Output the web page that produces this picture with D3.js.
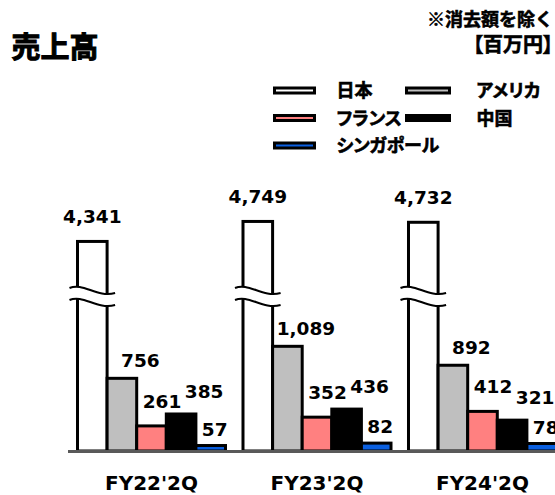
<!DOCTYPE html>
<meta charset="utf-8">
<script src="https://d3js.org/d3.v7.min.js"></script>
<style>
  body { margin: 0; background: #fff; }
  .jp { font-family: "Noto Sans CJK JP", "Noto Sans", sans-serif; font-weight: bold;
        stroke: #000; stroke-width: 0.6px; paint-order: stroke; }
  .num { font-family: "DejaVu Sans", Verdana, sans-serif; font-weight: bold; }
</style>
<div id="chart"></div>
<script>
  // data
  const categories = ["FY22'2Q", "FY23'2Q", "FY24'2Q"];
  const seriesNames = ["日本", "アメリカ", "フランス", "中国", "シンガポール"];
  const seriesColors = ["#ffffff", "#bfbfbf", "#ff8080", "#000000", "#0a5fe0"];
  const japan     = [4341, 4749, 4732];
  const america   = [756, 1089, 892];
  const france    = [261, 352, 412];
  const china     = [385, 436, 321];
  const singapore = [57, 82, 78];
  const values = [japan, america, france, china, singapore];

  const width = 555, height = 495;

  const svg = d3.select("#chart").append("svg")
      .attr("width", width)
      .attr("height", height);

  // group + bar scales
  const x0 = d3.scaleBand()
      .domain(categories)
      .range([77.5, 556.5])
      .paddingInner(0.1057);
  const x1 = d3.scaleBand()
      .domain(seriesNames)
      .range([0, x0.bandwidth()]);

  // broken value axis (gap between 1550 and 3350)
  const y = d3.scaleLinear()
      .domain([0, 1550, 3350, 5000])
      .range([451, 302, 290, 209.15]);

  const rows = [];
  categories.forEach((c, ci) => {
    seriesNames.forEach((s, si) => {
      rows.push({cat: c, series: s, si: si, value: values[si][ci]});
    });
  });

  // bars
  svg.append("g").selectAll("rect")
    .data(rows)
    .join("rect")
      .attr("x", d => x0(d.cat) + x1(d.series))
      .attr("y", d => y(d.value))
      .attr("width", x1.bandwidth())
      .attr("height", d => y(0) - y(d.value))
      .attr("fill", d => seriesColors[d.si])
      .attr("stroke", "#000")
      .attr("stroke-width", 3);

  // break marks on the Japan bars
  const yMid = (y(1550) + y(3350)) / 2;
  const brk = svg.append("g");
  categories.forEach(c => {
    const xl = x0(c) + x1("日本") - 8, xr = x0(c) + x1("日本") + x1.bandwidth() + 8;
    const w = xr - xl;
    const curve = (o) => `M${xl},${yMid - 8 + o} C${xl + 0.3 * w},${yMid - 14 + o} ${xl + 0.6 * w},${yMid + 2 + o} ${xr},${yMid - 3 + o}`;
    const back = (o) => `C${xl + 0.6 * w},${yMid + 2 + o} ${xl + 0.3 * w},${yMid - 14 + o} ${xl},${yMid - 8 + o}`;
    brk.append("path")
      .attr("d", curve(0) + ` L${xr},${yMid + 9} ` + back(12) + " Z")
      .attr("fill", "#fff");
    brk.append("path").attr("d", curve(0)).attr("fill", "none").attr("stroke", "#000").attr("stroke-width", 2);
    brk.append("path").attr("d", curve(12)).attr("fill", "none").attr("stroke", "#000").attr("stroke-width", 2);
  });

  // baseline
  svg.append("line")
      .attr("x1", 68).attr("x2", width)
      .attr("y1", y(0) + 0.5).attr("y2", y(0) + 0.5)
      .attr("stroke", "#595959")
      .attr("stroke-width", 3);

  // value labels
  const labelDx = [0, 18.5, 10.5, 23, 4];
  const labelDy = [-18.5, -11, -18, -16, -10];
  svg.append("g").selectAll("text")
    .data(rows)
    .join("text")
      .attr("class", "num")
      .attr("x", d => x0(d.cat) + x1(d.series) + x1.bandwidth() / 2 + labelDx[d.si])
      .attr("y", d => y(d.value) + labelDy[d.si])
      .attr("text-anchor", "middle")
      .attr("font-size", "18.5px")
      .text(d => d3.format(",")(d.value));

  // category labels
  svg.append("g").selectAll("text")
    .data(categories)
    .join("text")
      .attr("class", "num")
      .attr("x", d => x0(d) + x0.bandwidth() / 2)
      .attr("y", 490)
      .attr("text-anchor", "middle")
      .attr("font-size", "20px")
      .text(d => d);

  // title + notes
  svg.append("text").attr("class", "jp")
      .attr("x", 11.5).attr("y", 58)
      .attr("font-size", "29px")
      .style("stroke-width", "1px")
      .text("売上高");
  svg.append("text").attr("class", "jp")
      .attr("x", 553).attr("y", 26)
      .attr("text-anchor", "end")
      .attr("font-size", "18px")
      .text("※消去額を除く");
  svg.append("text").attr("class", "jp")
      .attr("x", 553).attr("y", 52)
      .attr("text-anchor", "end")
      .attr("font-size", "20px")
      .style("font-feature-settings", "'palt'")
      .text("【百万円】");

  // legend
  const legend = svg.append("g").selectAll("g")
    .data(seriesNames)
    .join("g")
      .attr("transform", (d, i) => `translate(${i % 2 ? 406.5 : 274.5},${90.5 + Math.floor(i / 2) * 27.5})`);
  legend.append("rect")
      .attr("x", 0).attr("y", -2.5)
      .attr("width", (d, i) => i % 2 ? 43 : 40)
      .attr("height", 5)
      .attr("fill", (d, i) => seriesColors[i])
      .attr("stroke", "#000")
      .attr("stroke-width", 3);
  legend.append("text")
      .attr("class", "jp")
      .attr("x", (d, i) => i % 2 ? 70 : 62)
      .attr("y", 6.5)
      .attr("font-size", "18px")
      .style("font-feature-settings", "'palt'")
      .text(d => d);
</script>
